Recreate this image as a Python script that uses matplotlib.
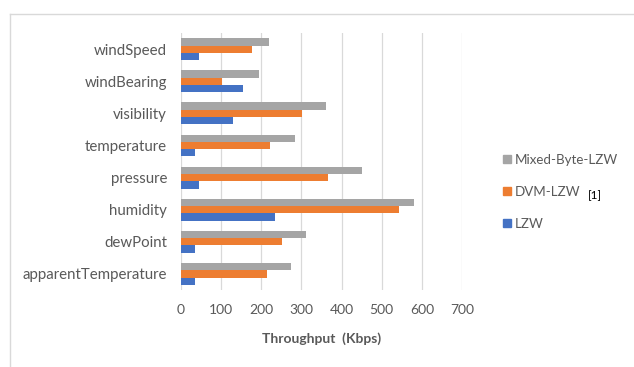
import numpy as np
import matplotlib.pyplot as plt
from matplotlib.lines import Line2D

categories = ["apparentTemperature", "dewPoint", "humidity", "pressure",
              "temperature", "visibility", "windBearing", "windSpeed"]
lzw = [36, 36, 234, 46, 36, 129, 155, 46]
dvm_lzw = [213, 251, 544, 366, 221, 301, 102, 178]
mixed_byte_lzw = [273, 312, 580, 452, 283, 360, 194, 218]

ticks = [0, 100, 200, 300, 400, 500, 600, 700]

TEXT = "#595959"
plt.rcParams["font.family"] = ["Lato", "DejaVu Sans"]

fig = plt.figure(figsize=(6.34, 3.67), dpi=100)
ax = fig.add_axes([0.2855, 0.2098, 0.4432, 0.700])

y = np.arange(len(categories))
h = 0.227
ax.barh(y - h, lzw, height=h, color="#4472C4", label="LZW", zorder=3)
ax.barh(y, dvm_lzw, height=h, color="#ED7D31", label="DVM-LZW", zorder=3)
ax.barh(y + h, mixed_byte_lzw, height=h, color="#A5A5A5",
        label="Mixed-Byte-LZW", zorder=3)

ax.set_xlim(0, 700)
ax.set_ylim(-0.5, len(categories) - 0.5)
ax.set_xticks(ticks)
ax.set_yticks(y)
ax.set_yticklabels(categories)
ax.tick_params(axis="both", length=0, colors=TEXT, labelsize=10)
ax.tick_params(axis="y", labelsize=10.8, pad=10)
ax.tick_params(axis="x", pad=10)
ax.grid(axis="x", color="#D9D9D9", linewidth=0.9, zorder=0)
for s in ax.spines.values():
    s.set_visible(False)
ax.set_xlabel("Throughput  (Kbps)", color=TEXT, fontsize=10,
              fontweight="bold", labelpad=12)

# legend, drawn by hand so the reference tag sits beside the DVM entry
handles = [Line2D([], [], marker="s", linestyle="", color=c, markersize=6)
           for c in ["#A5A5A5", "#ED7D31", "#4472C4"]]
leg = fig.legend(handles, ["Mixed-Byte-LZW", "DVM-LZW", "LZW"],
                 loc="center left", bbox_to_anchor=(0.77, 0.478),
                 frameon=False, fontsize=9.6, labelcolor=TEXT,
                 handletextpad=0.1, labelspacing=1.5, handlelength=1.0)
fig.text(0.928, 0.468, "[1]", fontsize=8.5, color="black", va="center")

# outer chart frame (only left and top edges are visible)
fig.add_artist(Line2D([0.016, 0.016], [0.0, 0.962], color="#D9D9D9",
                      linewidth=1.0, transform=fig.transFigure))
fig.add_artist(Line2D([0.016, 1.0], [0.962, 0.962], color="#D9D9D9",
                      linewidth=1.0, transform=fig.transFigure))

fig.savefig("out.png", dpi=100)
